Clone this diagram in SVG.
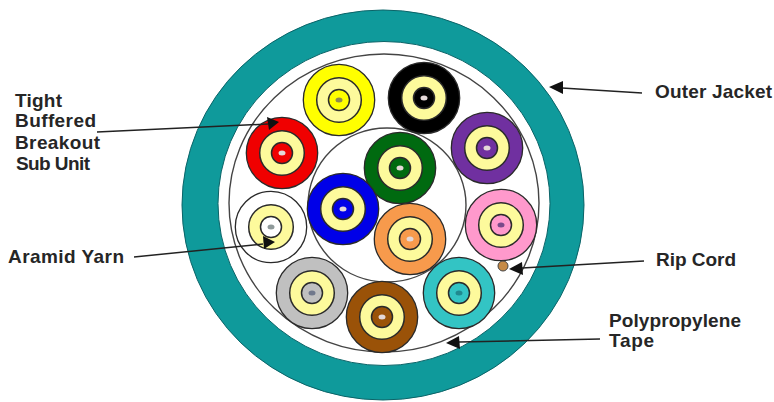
<svg xmlns="http://www.w3.org/2000/svg" width="774" height="402" viewBox="0 0 774 402">
<defs>
<g id="u"><circle r="35.700" stroke="#2a2a2a" stroke-width="1.300"/><circle r="22.300" fill="#fdfa9c" stroke="#2a2a2a" stroke-width="1.500"/><circle r="10.500" stroke="#2a2a2a" stroke-width="1.500"/><ellipse rx="3.500" ry="2.500" style="fill:var(--c,#e4d8d8)"/></g>
</defs>
<style>
text{font-family:"Liberation Sans",Arial,sans-serif;font-size:19px;font-weight:700;fill:#262626}
.l{fill:none;stroke:#444;stroke-width:1.400}
.a{stroke:#222;stroke-width:1.500;fill:none}
.h{fill:#111}
</style>
<rect width="774" height="402" fill="#fff"/>
<g id="jacket"><ellipse cx="383" cy="205" rx="201" ry="195" fill="#0f9a9b" stroke="#0b6468" stroke-width="1"/><ellipse cx="384" cy="203.500" rx="166" ry="162" fill="#fff" stroke="#0b6468" stroke-width="1"/></g>
<g id="tape"><ellipse cx="384" cy="203" rx="155" ry="149" class="l"/></g>
<g id="core"><ellipse cx="387" cy="205" rx="79" ry="77" class="l"/></g>
<g id="yellow" fill="#ffff00" style="--c:#8f8a50"><use href="#u" x="339" y="100"/></g>
<g id="red" fill="#f00000"><use href="#u" x="282" y="153"/></g>
<g id="black" fill="#000"><use href="#u" x="424" y="98"/></g>
<g id="purple" fill="#7030a0"><use href="#u" x="487" y="148"/></g>
<g id="green" fill="#006a10"><use href="#u" x="400" y="168"/></g>
<g id="blue" fill="#0000e8"><use href="#u" x="343" y="209"/></g>
<g id="white" fill="#fff" style="--c:#8f9a9a"><use href="#u" x="271" y="227"/></g>
<g id="gray" fill="#c0c0c0" style="--c:#70788c"><use href="#u" x="312" y="293"/></g>
<g id="brown" fill="#9a5208"><use href="#u" x="382" y="317"/></g>
<g id="orange" fill="#f79a4c"><use href="#u" x="410" y="239"/></g>
<g id="pink" fill="#ff99cc" style="--c:#7a4a8a"><use href="#u" x="501" y="225"/></g>
<g id="cyan" fill="#33c4c4" style="--c:#208a90"><use href="#u" x="459" y="293"/></g>
<g id="ripcord"><circle cx="503" cy="266" r="5" fill="#c58a45" stroke="#444"/></g>
<g id="connectors">
<path class="a" d="M97 132L268 124"/><path class="h" d="M279 122L267 117L269 130Z"/>
<path class="a" d="M134 257L263 244"/><path class="h" d="M275 242L263 236L264 249Z"/>
<path class="a" d="M642 93L562 88"/><path class="h" d="M549 87L563 81L563 94Z"/>
<path class="a" d="M644 261L522 268"/><path class="h" d="M509 269L522 262L523 275Z"/>
<path class="a" d="M600 339L459 342"/><path class="h" d="M446 343L459 336L460 349Z"/>
</g>
<g id="labels">
<text x="15" y="107" textLength="47">Tight</text>
<text x="15" y="127" textLength="81">Buffered</text>
<text x="15" y="149" textLength="85">Breakout</text>
<text x="16" y="170" textLength="74">Sub Unit</text>
<text x="8" y="263" textLength="116">Aramid Yarn</text>
<text x="655" y="98" textLength="117">Outer Jacket</text>
<text x="656" y="266" textLength="80">Rip Cord</text>
<text x="609" y="327" textLength="132">Polypropylene</text>
<text x="609" y="347" textLength="45">Tape</text>
</g>
</svg>
